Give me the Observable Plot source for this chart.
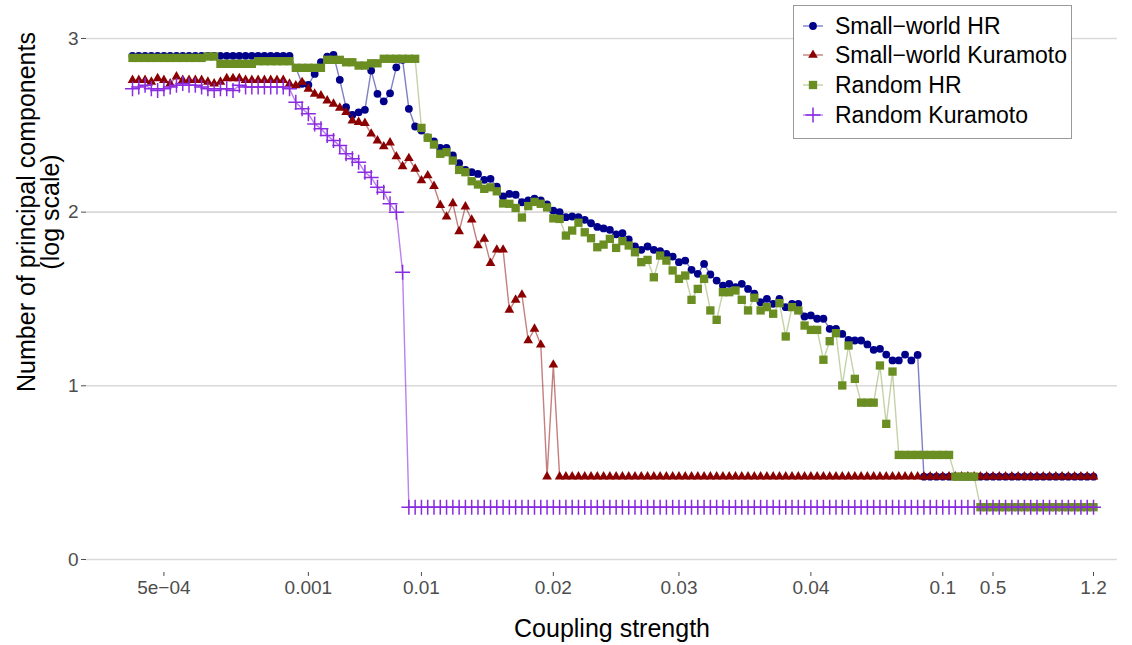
<!DOCTYPE html>
<html><head><meta charset="utf-8">
<script src="https://cdn.jsdelivr.net/npm/d3@7"></script>
<script src="https://cdn.jsdelivr.net/npm/@observablehq/plot@0.6"></script>
<style>
html,body{margin:0;padding:0;background:#fff;}
#wrap{position:relative;width:1132px;height:645px;font-family:"Liberation Sans",Arial,Helvetica,sans-serif;}
#wrap > svg{display:block;}
#legend{position:absolute;left:793px;top:5px;}
</style></head><body>
<div id="wrap"></div>
<script>
// x positions are the index of each coupling-strength step
const tickIndex = [5, 28, 46, 67, 87, 108, 129, 137, 153];
const tickLabels = ["5e\u221204", "0.001", "0.01", "0.02", "0.03", "0.04", "0.1", "0.5", "1.2"];
const yTicks = [0, 1, 2, 3];
const seriesNames = ["Small\u2212world HR", "Small\u2212world Kuramoto", "Random HR", "Random Kuramoto"];
const xTitle = "Coupling strength";
const yTitleLines = ["Number of principal components", "(log scale)"];

// Small-world HR (log10 of number of PCs)
const swHR = [
2.90,2.90,2.90,2.90,2.90,2.90,2.90,2.90,2.90,2.90,
2.90,2.90,2.90,2.90,2.90,2.90,2.90,2.90,2.90,2.90,
2.90,2.90,2.90,2.90,2.90,2.90,
2.831,2.739,2.733,2.796,2.863,2.896,2.905,2.762,2.604,2.56,
2.575,2.589,2.815,2.681,2.638,2.684,2.834,2.877,2.595,2.493,
2.47,2.431,2.408,2.37,2.37,2.326,2.282,2.243,2.23,2.22,
2.186,2.192,2.147,2.09,2.105,2.10,2.057,2.067,2.077,2.067,
2.044,2.009,2.0,1.971,1.975,1.971,1.956,1.936,1.915,1.906,
1.898,1.872,1.879,1.843,
1.802,1.783,1.802,1.783,1.776,1.76,1.744,1.712,1.721,1.668,
1.645,1.702,1.641,1.606,1.577,1.587,1.568,1.587,1.558,1.53,
1.481,1.501,1.472,1.501,1.453,1.472,1.472,1.399,1.405,1.386,
1.386,1.328,1.328,1.299,1.265,1.261,1.261,1.238,1.207,1.213,
1.18,1.146,1.146,1.18,1.146,1.178,
0.477,0.477,0.477,0.477,0.477,0.477,0.477,0.477,0.477,0.477,
0.477,0.477,0.477,0.477,0.477,0.477,0.477,0.477,0.477,0.477,
0.477,0.477,0.477,0.477,0.477,0.477,0.477,0.477
];

// Small-world Kuramoto
const swK = [
2.76,2.76,2.76,2.75,2.77,2.76,2.74,2.78,2.76,2.76,
2.76,2.76,2.75,2.74,2.75,2.77,2.77,2.77,2.76,2.76,
2.76,2.76,2.76,2.76,2.76,
2.738,2.729,2.748,2.71,2.681,2.671,2.642,2.623,2.60,2.575,
2.527,2.518,2.512,2.451,2.412,2.378,2.40,2.32,2.263,2.31,
2.249,2.182,2.211,2.15,2.04,1.973,2.05,1.889,2.032,1.956,
1.808,1.846,1.706,1.783,1.783,1.437,1.495,1.524,1.261,1.328,
1.236,0.477,1.121,
0.477,0.477,0.477,0.477,0.477,0.477,0.477,0.477,0.477,0.477,
0.477,0.477,0.477,0.477,0.477,0.477,0.477,0.477,0.477,0.477,
0.477,0.477,0.477,0.477,0.477,0.477,0.477,0.477,0.477,0.477,
0.477,0.477,0.477,0.477,0.477,0.477,0.477,0.477,0.477,0.477,
0.477,0.477,0.477,0.477,0.477,0.477,0.477,0.477,0.477,0.477,
0.477,0.477,0.477,0.477,0.477,0.477,0.477,0.477,0.477,0.477,
0.477,0.477,0.477,0.477,0.477,0.477,0.477,0.477,0.477,0.477,
0.477,0.477,0.477,0.477,0.477,0.477,0.477,0.477,0.477,0.477,
0.477,0.477,0.477,0.477,0.477,0.477
];

// Random HR
const rHR = [
2.888,2.888,2.888,2.888,2.888,2.888,2.888,2.888,2.888,2.888,
2.888,2.888,2.896,2.896,2.854,2.854,2.854,2.854,2.854,2.854,
2.869,2.869,2.869,2.869,2.869,2.869,2.831,2.831,2.831,2.831,
2.831,2.877,2.877,2.877,2.863,2.863,2.844,2.844,2.857,2.857,
2.883,2.883,2.883,2.883,2.883,2.883,
2.485,2.428,2.389,2.336,2.345,2.297,2.243,2.23,2.178,2.159,
2.134,2.143,2.12,2.05,2.048,2.024,1.969,2.035,2.059,2.048,
2.027,1.964,1.961,1.865,1.894,1.939,1.884,1.85,1.798,1.813,
1.846,1.794,1.833,1.808,1.769,1.712,1.725,1.625,1.75,1.721,
1.664,1.616,1.635,1.495,1.558,1.616,1.434,1.38,1.539,1.539,
1.549,1.495,1.434,1.507,1.434,1.453,1.415,1.476,1.284,1.453,
1.434,1.347,1.322,1.322,1.15,1.257,1.303,1.002,1.232,1.04,
0.903,0.903,0.903,1.117,0.781,1.082,
0.602,0.602,0.602,0.602,0.602,0.602,0.602,0.602,0.602,
0.477,0.477,0.477,0.477,
0.301,0.301,0.301,0.301,0.301,0.301,0.301,0.301,0.301,0.301,
0.301,0.301,0.301,0.301,0.301,0.301,0.301,0.301,0.301
];

// Random Kuramoto
const rK = [
2.71,2.72,2.73,2.71,2.70,2.71,2.72,2.73,2.74,2.73,
2.73,2.72,2.71,2.70,2.71,2.71,2.70,2.73,2.72,2.72,
2.72,2.72,2.72,2.72,2.72,
2.71,2.633,2.595,2.566,2.508,2.48,2.441,2.412,2.383,2.336,
2.307,2.287,2.23,2.20,2.143,2.115,2.048,1.999,1.654,
0.301,0.301,0.301,0.301,0.301,0.301,0.301,0.301,0.301,0.301,
0.301,0.301,0.301,0.301,0.301,0.301,0.301,0.301,0.301,0.301,
0.301,0.301,0.301,0.301,0.301,0.301,0.301,0.301,0.301,0.301,
0.301,0.301,0.301,0.301,0.301,0.301,0.301,0.301,0.301,0.301,
0.301,0.301,0.301,0.301,0.301,0.301,0.301,0.301,0.301,0.301,
0.301,0.301,0.301,0.301,0.301,0.301,0.301,0.301,0.301,0.301,
0.301,0.301,0.301,0.301,0.301,0.301,0.301,0.301,0.301,0.301,
0.301,0.301,0.301,0.301,0.301,0.301,0.301,0.301,0.301,0.301,
0.301,0.301,0.301,0.301,0.301,0.301,0.301,0.301,0.301,0.301,
0.301,0.301,0.301,0.301,0.301,0.301,0.301,0.301,0.301,0.301,
0.301,0.301,0.301,0.301,0.301,0.301,0.301,0.301,0.301,0.301
];

const styles = [
  {vals: swHR, color: "#00008B", symbol: "circle",   r: 3.9, lineOpacity: 0.5,  stroke: false},
  {vals: swK,  color: "#8B0000", symbol: "triangle", r: 3.6, lineOpacity: 0.5,  stroke: false},
  {vals: rHR,  color: "#6B8E23", symbol: "square",   r: 4.7, lineOpacity: 0.4,  stroke: false},
  {vals: rK,   color: "#8A2BE2", symbol: "plus",     r: 4.9, lineOpacity: 0.6,  stroke: true}
];

const tables = styles.map((s, k) => s.vals.map((v, i) => ({i, v, series: seriesNames[k]})));

const lineMarks = styles.map((s, k) => Plot.line(tables[k], {x: "i", y: "v", stroke: s.color, strokeOpacity: s.lineOpacity, strokeWidth: 1.4}));
const dotMarks = styles.map((s, k) => s.stroke
  ? Plot.dot(tables[k], {x: "i", y: "v", symbol: s.symbol, r: s.r, stroke: s.color, strokeWidth: 1.5, fill: "none"})
  : Plot.dot(tables[k], {x: "i", y: "v", symbol: s.symbol, r: s.r, fill: s.color, stroke: "none"}));

const plot = Plot.plot({
  width: 1132, height: 645,
  marginLeft: 86, marginRight: 15, marginTop: 20.6, marginBottom: 73,
  style: {fontFamily: "Liberation Sans, Arial, sans-serif", background: "#fff"},
  x: {type: "linear", domain: [-7.325, 156.82]},
  y: {domain: [-0.075, 3.1]},
  marks: [
    Plot.ruleY(yTicks, {stroke: "#d9d9d9", strokeWidth: 1.6}),
    ...lineMarks,
    ...dotMarks,
    Plot.axisY({ticks: yTicks, tickSize: 5, tickPadding: 3, fontSize: 19, color: "#4d4d4d", label: null, tickFormat: d => String(d)}),
    Plot.axisX({ticks: tickIndex, tickSize: 4, tickPadding: 4, fontSize: 19, color: "#4d4d4d", label: null,
                tickFormat: d => tickLabels[tickIndex.indexOf(d)]})
  ]
});
const wrap = document.getElementById("wrap");
wrap.appendChild(plot);

// axis titles
const svg = d3.select(plot);
const titleFont = "Liberation Sans, Arial, sans-serif";
svg.append("text").attr("x", 612).attr("y", 628).attr("dy", "0.35em")
  .attr("text-anchor", "middle").attr("font-size", 25).attr("font-family", titleFont).attr("fill", "#000")
  .text(xTitle);
const yTitleCenter = 212;
const yTitleX = [26, 50];
yTitleLines.forEach((t, k) => {
  svg.append("text").attr("transform", `translate(${yTitleX[k]},${yTitleCenter}) rotate(-90)`).attr("dy", "0.35em")
    .attr("text-anchor", "middle").attr("font-size", 25).attr("font-family", titleFont).attr("fill", "#000")
    .text(t);
});

// legend box
const lw = 279, lh = 134;
const leg = d3.create("svg").attr("id", "legend").attr("width", lw).attr("height", lh)
  .style("font-family", titleFont);
leg.append("rect").attr("x", 0.5).attr("y", 0.5).attr("width", lw - 1).attr("height", lh - 1)
  .attr("fill", "#fff").attr("stroke", "#333").attr("stroke-width", 1).attr("stroke-dasharray", "1,1");
const rowY = [21, 50, 80, 110];
const symTypes = {circle: d3.symbolCircle, triangle: d3.symbolTriangle, square: d3.symbolSquare, plus: d3.symbolPlus};
styles.forEach((s, k) => {
  const g = leg.append("g").attr("transform", `translate(0,${rowY[k]})`);
  g.append("line").attr("x1", 10).attr("x2", 30).attr("y1", 0).attr("y2", 0)
    .attr("stroke", s.color).attr("stroke-opacity", s.lineOpacity).attr("stroke-width", 1.4);
  const p = g.append("path").attr("transform", "translate(20,0)")
    .attr("d", d3.symbol(symTypes[s.symbol], Math.PI * s.r * s.r)());
  if (s.stroke) p.attr("fill", "none").attr("stroke", s.color).attr("stroke-width", 1.5);
  else p.attr("fill", s.color);
  g.append("text").attr("x", 42).attr("y", 0).attr("dy", "0.36em").attr("font-size", 23).attr("fill", "#000").text(seriesNames[k]);
});
wrap.appendChild(leg.node());
</script>
</body></html>
